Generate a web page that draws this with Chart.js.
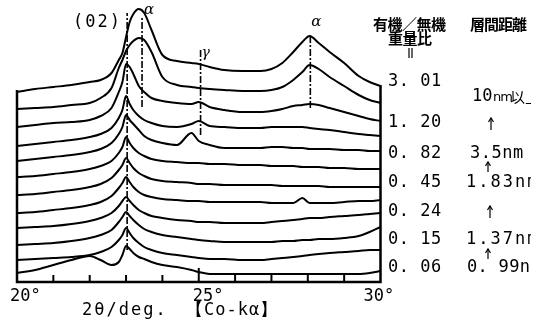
<!DOCTYPE html>
<html>
<head>
<meta charset="utf-8">
<script src="https://cdn.jsdelivr.net/npm/chart.js@4.4.1/dist/chart.umd.min.js"></script>
<style>
html,body{margin:0;padding:0;background:#fff;}
canvas{display:block;}
</style>
</head>
<body>
<canvas id="c" width="541" height="324"></canvas>
<script>
// 2θ sampling positions (deg)
const twoTheta = [20,20.5,21,21.5,22,22.3,22.6,22.8,22.9,23.0,23.1,23.2,23.35,23.5,23.7,24.0,24.4,24.8,25.0,25.3,25.7,26.2,26.7,27.0,27.3,27.6,27.85,28.05,28.3,28.6,29.0,29.4,29.7,30.0];

// stacked intensities (top trace first)
const trace1  = [190,193,195,197,200,202,209,222,229,245,260,268,273,269,252,227,221,219,218,215,212,211,211,213,219,230,240,246,239,230,219,206,200,196];
const trace2  = [173,174,175,177,179,184,194,214,222,231,237,241,244,242,230,205,197,195,194,193,192,191,191,192,195,202,210,217,213,205,196,187,182,179];
const trace3  = [155,157,159,160,162,166,174,190,200,218,215,208,196,190,184,181,179,178,180,175,172,170,170,171,173,176,177,178,177,174,170,166,163,161];
const trace4  = [136,138,140,142,145,148,154,164,172,186,178,172,166,162,159,156,155,158,161,156,155,154,154,155,155,155,155,154,153,152,150,148,147,146];
const trace5  = [121,123,125,127,130,133,139,148,155,167,162,158,152,146,142,139,137,149,141,137,134,134,134,135,135,134,134,133,133,133,132,132,131,131];
const trace6  = [105,106,108,110,113,116,121,129,135,145,139,134,129,126,123,121,120,119,119,118,118,117,117,116,116,116,115,115,115,114,114,113,113,113];
const trace7  = [87,88,90,92,95,98,104,112,117,124,119,114,109,106,103,101,100,99,98,98,97,97,97,97,96,96,96,96,96,95,95,95,95,95];
const trace8  = [69,70,72,74,77,80,86,94,99,105,100,95,90,87,85,83,82,81,81,80,80,80,80,79,79,79,84,79,79,79,80,81,81,82];
const trace9  = [54,55,56,58,61,64,69,76,81,85,81,77,72,69,66,64,62,61,60,60,59,59,59,60,61,62,63,64,64,65,66,67,68,69];
const trace10 = [37,38,39,41,44,47,52,60,65,70,66,62,57,53,50,47,45,43,42,41,40,40,40,40,41,41,42,42,43,43,44,46,50,55];
const trace11 = [22,23,24,25,27,30,35,42,47,54,49,44,39,35,32,29,27,25,24,23,23,22,22,23,24,25,26,27,28,29,30,31,32,32];
const trace12 = [9,12,17,22,26,22,17,20,27,36,33,29,25,23,20,17,15,12,10,8,8,8,8,8,8,8,8,8,8,8,8,8,9,11];

// dash-dot peak markers: [2θ, low, high]
const markerLines = [[23.03,32,269],[23.44,175,265],[25.05,147,232],[28.07,174,247]];
const peakLabels = ['(02)','α','γ','α'];

// frame
const frameLeftTop = 192, frameRightTop = 197;
const axisTicks = [21,22,23,24,25,26,27,28,29];
const xTickValues = [20,25,30];
const xTickLabels = ['20°','25°','30°'];
const axisTitle = ['2θ/deg.','【Co-kα】'];

// right-hand annotation columns
const headerRatio = ['有機／無機','重量比'];
const headerSpacing = '層間距離';
const ratios = ['3. 01','1. 20','0. 82','0. 45','0. 24','0. 15','0. 06'];
const spacings = ['10nm以上','3.5nm','1.83nm','1.37nm','0. 99nm'];

const traces = [trace1,trace2,trace3,trace4,trace5,trace6,trace7,trace8,trace9,trace10,trace11,trace12];

const datasets = traces.map(t => ({
  data: twoTheta.map((d,i)=>({x:d,y:t[i]})),
  borderColor:'#000', borderWidth:2, pointRadius:0, fill:false,
  cubicInterpolationMode:'monotone', clip:false
}));
markerLines.forEach(m => datasets.push({
  data:[{x:m[0],y:m[1]},{x:m[0],y:m[2]}],
  borderColor:'#000', borderWidth:1.6, borderDash:[7,2,2,2], pointRadius:0, clip:false
}));
datasets.push({data:[{x:20,y:frameLeftTop},{x:20,y:0},{x:30,y:0},{x:30,y:frameRightTop}],
  borderColor:'#000', borderWidth:2.5, pointRadius:0, clip:false, tension:0});

const overlay = {
  id:'overlay',
  afterDatasetsDraw(chart){
    const {ctx, scales:{x,y}} = chart;
    ctx.save();
    ctx.strokeStyle='#000'; ctx.fillStyle='#000'; ctx.lineWidth=2;
    const y0 = y.getPixelForValue(0);
    axisTicks.forEach(d=>{
      const px = x.getPixelForValue(d);
      const len = d===25?14:7;
      ctx.beginPath(); ctx.moveTo(px,y0); ctx.lineTo(px,y0-len); ctx.stroke();
    });
    const T=(s,px,py,font,sp,align)=>{
      ctx.font=font; ctx.letterSpacing=(sp||0)+'px'; ctx.textAlign=align||'left';
      ctx.textBaseline='middle'; ctx.fillText(s,px,py);
    };
    const mono='17px "DejaVu Sans Mono"';
    // x tick labels
    const offs=[-7,-6,-17];
    xTickValues.forEach((v,i)=>T(xTickLabels[i], x.getPixelForValue(v)+offs[i], 297, mono, 0));
    T(axisTitle[0], 82, 311, mono, 2);
    T(axisTitle[1], 186, 311, mono, 1);
    // peak labels
    T(peakLabels[0], 73, 23, mono, 2);
    T(peakLabels[1], x.getPixelForValue(23.44)+2, 10, 'italic 15px "DejaVu Serif"');
    T(peakLabels[2], x.getPixelForValue(25.05)+1, 53, 'italic 14px "DejaVu Serif"');
    T(peakLabels[3], x.getPixelForValue(28.07)+1, 22, 'italic 15px "DejaVu Serif"');
    // headers
    const cjk='bold 15px "Noto Sans CJK JP"';
    T(headerRatio[0], 373, 24, cjk, -0.5);
    T(headerRatio[1], 388, 38, cjk, -0.5);
    ctx.lineWidth=1.2;
    [409,412].forEach(lx=>{ctx.beginPath(); ctx.moveTo(lx,48); ctx.lineTo(lx,58); ctx.stroke();});
    T(headerSpacing, 470, 24, cjk, -1);
    // ratio column
    const ry=[82,123,154,183,212,240,268];
    ratios.forEach((s,i)=>T(s, 388, ry[i], mono, 0.5));
    // spacing column (clipped at scan edge)
    ctx.save();
    ctx.beginPath(); ctx.rect(440,60,91,230); ctx.clip();
    T('10', 472, 97, mono, 0);
    T('nm', 493, 98, '13px "DejaVu Sans"', -1);
    T('以上', 510, 97, '15px "Noto Sans CJK JP"', 0);
    T(spacings[1], 470, 154, mono, 0.5);
    T(spacings[2], 466, 183, mono, 2);
    T(spacings[3], 466, 240, mono, 2);
    T(spacings[4], 467, 268, mono, 0.3);
    ctx.restore();
    // arrows
    const arrow=(ax,top,bot)=>{
      ctx.lineWidth=1.2;
      ctx.beginPath(); ctx.moveTo(ax,bot); ctx.lineTo(ax,top); ctx.stroke();
      ctx.beginPath(); ctx.moveTo(ax-2.5,top+4); ctx.lineTo(ax,top); ctx.lineTo(ax+2.5,top+4); ctx.stroke();
    };
    arrow(491,118,130); arrow(488,162,172); arrow(490,206,218); arrow(488,249,259);
    ctx.restore();
  }
};

new Chart(document.getElementById('c'), {
  type:'line',
  data:{datasets},
  options:{
    responsive:false, animation:false, devicePixelRatio:1,
    layout:{padding:{left:17,right:160.5,top:0,bottom:42}},
    plugins:{legend:{display:false}, tooltip:{enabled:false}},
    elements:{line:{tension:0}},
    scales:{
      x:{type:'linear',min:20,max:30,display:false},
      y:{min:0,max:282,display:false}
    }
  },
  plugins:[overlay]
});
</script>
</body>
</html>
